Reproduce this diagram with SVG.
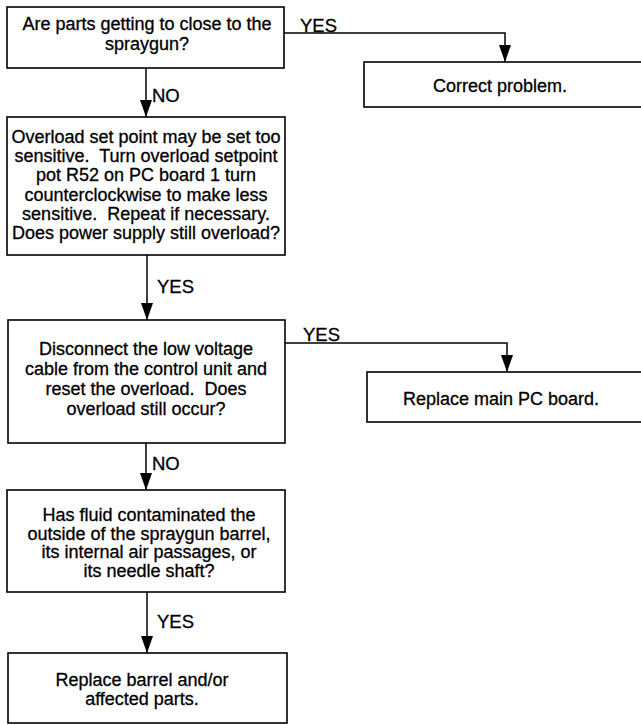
<svg xmlns="http://www.w3.org/2000/svg" width="641" height="725" viewBox="0 0 641 725">
<defs>
<style>
.box{fill:#fff;stroke:#000;stroke-width:1.6}
.ln{fill:none;stroke:#000;stroke-width:1.5}
.t{font-family:"Liberation Sans",Arial,sans-serif;font-size:18px;fill:#000;stroke:#000;stroke-width:0.3;text-anchor:middle}
.l{font-family:"Liberation Sans",Arial,sans-serif;font-size:18.5px;fill:#000;stroke:#000;stroke-width:0.3}
</style>
<marker id="ah" markerUnits="userSpaceOnUse" markerWidth="18" markerHeight="14" refX="17" refY="7" orient="auto" viewBox="0 0 18 14">
<path d="M0,1 L17,7 L0,13 z" fill="#000"/>
</marker>
</defs>
<rect width="641" height="725" fill="#fff"/>
<g id="connectors">
<polyline class="ln" points="284,33 505,33 505,62" marker-end="url(#ah)"/>
<line class="ln" x1="146" y1="68" x2="146" y2="117" marker-end="url(#ah)"/>
<line class="ln" x1="147" y1="255" x2="147" y2="320" marker-end="url(#ah)"/>
<polyline class="ln" points="285,343 507,343 507,372" marker-end="url(#ah)"/>
<line class="ln" x1="146" y1="443" x2="146" y2="490" marker-end="url(#ah)"/>
<line class="ln" x1="147" y1="592" x2="147" y2="653" marker-end="url(#ah)"/>
<text class="l" x="300" y="32">YES</text>
<text class="l" x="152" y="102">NO</text>
<text class="l" x="157" y="293">YES</text>
<text class="l" x="303" y="341">YES</text>
<text class="l" x="152" y="470">NO</text>
<text class="l" x="157" y="628">YES</text>
</g>
<g id="n1">
<rect class="box" x="7" y="7" width="277" height="61"/>
<text class="t"><tspan x="147" y="30">Are parts getting to close to the</tspan><tspan x="147" y="49.5">spraygun?</tspan></text>
</g>
<g id="n2">
<rect class="box" x="364" y="62" width="280" height="45"/>
<text class="t" x="500" y="92">Correct problem.</text>
</g>
<g id="n3">
<rect class="box" x="7" y="117" width="278" height="138"/>
<text class="t"><tspan x="146" y="143">Overload set point may be set too</tspan><tspan x="146" y="162.2">sensitive.&#160; Turn overload setpoint</tspan><tspan x="146" y="181.4">pot R52 on PC board 1 turn</tspan><tspan x="146" y="200.6">counterclockwise to make less</tspan><tspan x="146" y="219.8">sensitive.&#160; Repeat if necessary.</tspan><tspan x="146" y="239">Does power supply still overload?</tspan></text>
</g>
<g id="n4">
<rect class="box" x="8" y="320" width="277" height="123"/>
<text class="t"><tspan x="146" y="355">Disconnect the low voltage</tspan><tspan x="146" y="375">cable from the control unit and</tspan><tspan x="146" y="395">reset the overload.&#160; Does</tspan><tspan x="146" y="415">overload still occur?</tspan></text>
</g>
<g id="n5">
<rect class="box" x="367" y="372" width="277" height="50"/>
<text class="t" x="501" y="405">Replace main PC board.</text>
</g>
<g id="n6">
<rect class="box" x="7" y="490" width="278" height="102"/>
<text class="t"><tspan x="149" y="521">Has fluid contaminated the</tspan><tspan x="149" y="539.5">outside of the spraygun barrel,</tspan><tspan x="149" y="558">its internal air passages, or</tspan><tspan x="149" y="576.5">its needle shaft?</tspan></text>
</g>
<g id="n7">
<rect class="box" x="8" y="653" width="279" height="70"/>
<text class="t"><tspan x="142" y="686">Replace barrel and/or</tspan><tspan x="142" y="705">affected parts.</tspan></text>
</g>
</svg>
